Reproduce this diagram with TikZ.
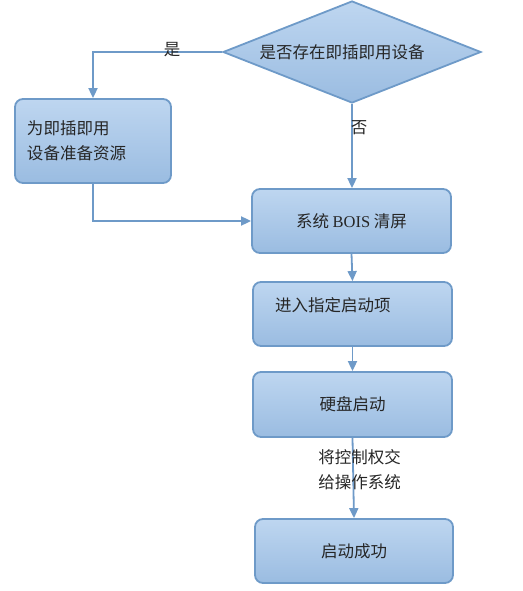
\documentclass[tikz,border=0pt]{standalone}
\usepackage{fontspec}
\setmainfont{Noto Sans CJK SC}
\newfontfamily\lat{Liberation Serif}
\usetikzlibrary{shapes.geometric,arrows.meta}
\definecolor{ln}{RGB}{110,154,200}
\definecolor{ftop}{RGB}{190,214,240}
\definecolor{fbot}{RGB}{154,188,225}
\begin{document}
\begin{tikzpicture}[x=1pt,y=-1pt,
  every node/.style={font=\fontsize{16.5pt}{25pt}\selectfont, text=black!85},
  box/.style={draw=ln, line width=1.8pt, rounded corners=8pt, top color=ftop, bottom color=fbot, inner sep=0pt},
  dec/.style={draw=ln, line width=1.8pt, shape=diamond, top color=ftop, bottom color=fbot, inner sep=0pt, aspect=2.5, minimum width=258pt, minimum height=102pt},
  arr/.style={draw=ln, line width=1.8pt, -{Triangle[length=10pt,width=9pt]}},
  txt/.style={inner sep=0pt}]
\useasboundingbox (0,0) rectangle (522,591);
\node[dec] (dia) at (352,52) {};
\node[txt] (diat) at (342,52) {是否存在即插即用设备};
\node[box, minimum width=156pt, minimum height=84pt, text width=132pt, align=left] (prep) at (93,141) {为即插即用\\设备准备资源};
\node[box, minimum width=199pt, minimum height=64pt] (bois) at (351.5,221) {系统 {\lat BOIS} 清屏};
\node[box, minimum width=199pt, minimum height=64pt] (step) at (352.5,314) {};
\node[txt, anchor=west] (stept) at (275,305) {进入指定启动项};
\node[box, minimum width=199pt, minimum height=65pt] (disk) at (352.5,404.5) {硬盘启动};
\node[box, minimum width=198pt, minimum height=64pt] (done) at (354,551) {启动成功};
\draw[arr] (dia.west) -| (prep.north);
\draw[arr] (dia.south) -- (dia.south |- bois.north);
\draw[arr] (prep.south) |- (bois.west);
\draw[arr] (bois.south) -- (step.north);
\draw[arr] (step.south) -- (disk.north);
\draw[arr] (disk.south) -- (done.north);
\node[txt] (yes) at (172,50) {是};
\node[txt] (no) at (359,128) {否};
\node[txt, align=center] (hand) at (359.5,469.5) {将控制权交\\给操作系统};
\end{tikzpicture}
\end{document}
